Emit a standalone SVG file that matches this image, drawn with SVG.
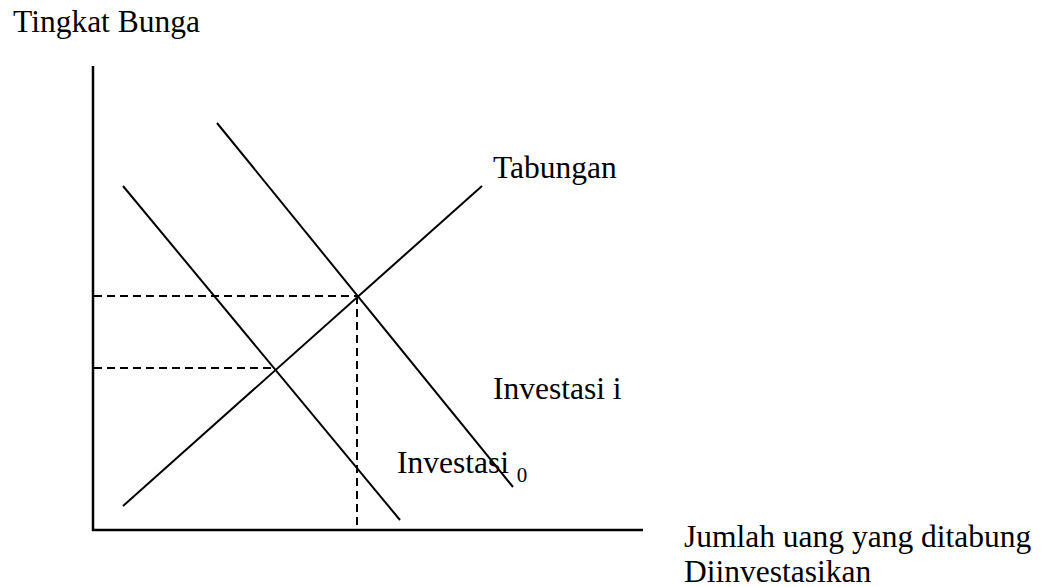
<svg xmlns="http://www.w3.org/2000/svg" width="1042" height="587" viewBox="0 0 1042 587">
<style>
text{font-family:"Liberation Serif","Times New Roman",serif;font-size:31.5px;fill:#000}
.ln{stroke:#000;stroke-width:2;fill:none}
.ax{stroke:#000;stroke-width:2.5;fill:none}
.ds{stroke:#000;stroke-width:2;stroke-dasharray:8,5;fill:none}
</style>
<rect width="1042" height="587" fill="#fff"/>
<g id="axes">
<line class="ax" x1="93" y1="66" x2="93" y2="531"/>
<line class="ax" x1="92" y1="530" x2="643" y2="530"/>
</g>
<g id="connectors">
<line class="ds" x1="94" y1="296" x2="357" y2="296"/>
<line class="ds" x1="94" y1="368" x2="276" y2="368"/>
<line class="ds" x1="357" y1="296" x2="357" y2="530"/>
</g>
<g id="tabungan">
<line class="ln" x1="123" y1="506" x2="482" y2="186"/>
<text x="493" y="178">Tabungan</text>
</g>
<g id="investasi-i">
<line class="ln" x1="217" y1="123" x2="513" y2="487"/>
<text x="493" y="399">Investasi i</text>
</g>
<g id="investasi-0">
<line class="ln" x1="123" y1="186" x2="400" y2="520"/>
<text x="397" y="473">Investasi <tspan font-size="21" dy="9">0</tspan></text>
</g>
<g id="y-label"><text x="13" y="32">Tingkat Bunga</text></g>
<g id="x-label">
<text x="684" y="547">Jumlah uang yang ditabung</text>
<text x="684" y="582">Diinvestasikan</text>
</g>
</svg>
